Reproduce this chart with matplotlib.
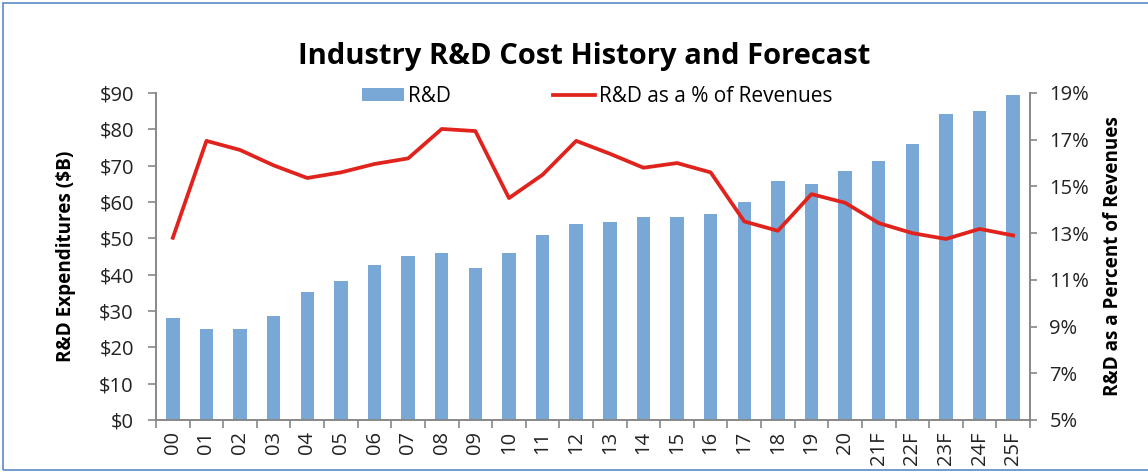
import matplotlib
matplotlib.use("Agg")
import matplotlib.pyplot as plt
from matplotlib.ticker import FuncFormatter, FixedLocator, MultipleLocator
import numpy as np

years = ["00", "01", "02", "03", "04", "05", "06", "07", "08", "09", "10", "11", "12",
         "13", "14", "15", "16", "17", "18", "19", "20", "21F", "22F", "23F", "24F", "25F"]
rd_spend = [28, 25, 25, 28.5, 35.3, 38.3, 42.7, 45, 46, 41.7, 46, 51, 54,
            54.5, 56, 56, 56.7, 60, 65.7, 65, 68.5, 71.3, 76, 84.3, 85, 89.5]
rd_pct = [12.8, 16.95, 16.56, 15.9, 15.36, 15.6, 15.96, 16.2, 17.46, 17.37, 14.5, 15.5, 16.95,
          16.4, 15.8, 16.0, 15.6, 13.5, 13.1, 14.67, 14.3, 13.43, 13.0, 12.75, 13.18, 12.9]
pct_ticks = [5, 7, 9, 11, 13, 15, 17, 19]

plt.rcParams['font.family'] = ['Open Sans', 'DejaVu Sans']

fig = plt.figure(figsize=(11.48, 4.73), dpi=100)
ax = fig.add_axes([0.1359, 0.1121, 0.7613, 0.6913])
ax2 = ax.twinx()

x = np.arange(len(years))
bars = ax.bar(x, rd_spend, width=0.4, color="#79A8D7", label="R&D", zorder=2)
line, = ax2.plot(x, rd_pct, color="#E0231C", lw=2.7, label="R&D as a % of Revenues", zorder=3)

ax.set_xlim(-0.5, len(years) - 0.5)
ax.set_ylim(0, 90)
ax2.set_ylim(5, 19)
ax.yaxis.set_major_locator(MultipleLocator(10))
ax2.yaxis.set_major_locator(FixedLocator(pct_ticks))
ax.yaxis.set_major_formatter(FuncFormatter(lambda v, p: f"${v:.0f}"))
ax2.yaxis.set_major_formatter(FuncFormatter(lambda v, p: f"{v:.0f}%"))

tick_fs = 14.5
ax.set_xticks(x)
ax.set_xticklabels(years, rotation=90, fontsize=tick_fs, color="#222222")
ax.tick_params(axis='x', length=0, pad=8)
ax.xaxis.set_minor_locator(FixedLocator(np.arange(-0.5, len(years), 1.0)))
ax.tick_params(axis='x', which='minor', length=6, color="#888888", width=1.2)

ax.tick_params(axis='y', length=6, color="#888888", width=1.2, labelsize=tick_fs,
               pad=10, labelcolor="#222222")
ax2.tick_params(axis='y', length=5, color="#888888", width=1.2, labelsize=tick_fs,
                pad=9, labelcolor="#222222")

for a in (ax, ax2):
    a.spines['top'].set_visible(False)
    for s in ('left', 'right', 'bottom'):
        a.spines[s].set_color("#888888")
        a.spines[s].set_linewidth(1.2)

ax.set_ylabel("R&D Expenditures ($B)", fontsize=13.6, fontweight='bold', labelpad=17)
ax2.set_ylabel("R&D as a Percent of Revenues", fontsize=13.6, fontweight='bold', labelpad=10)

fig.text(0.509, 0.8795, "Industry R&D Cost History and Forecast", ha='center', va='center',
         fontsize=21, fontweight='bold')

leg = ax.legend([bars, line], ["R&D", "R&D as a % of Revenues"], ncol=2, frameon=False,
                loc='center', bbox_to_anchor=(0.505, 0.99), fontsize=15,
                handlelength=2.0, handleheight=0.6, columnspacing=4.9, handletextpad=0.2,
                borderpad=0, borderaxespad=0)

border = plt.Rectangle((0.003, 0.006), 1.2, 0.988, transform=fig.transFigure, fill=False,
                       edgecolor="#5B8AC6", lw=1.2)
fig.patches.append(border)

fig.savefig("out.png", dpi=100)
